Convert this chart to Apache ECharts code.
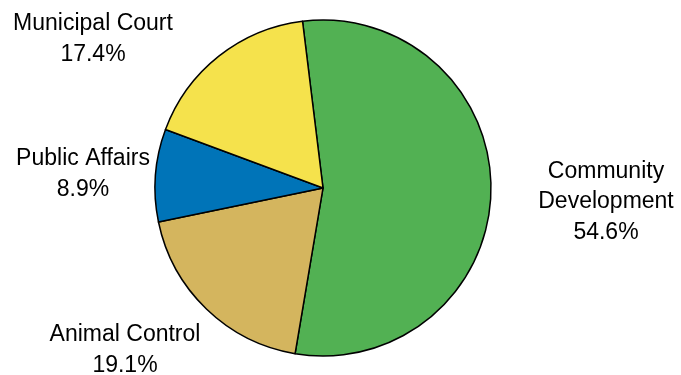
<!DOCTYPE html>
<html>
<head>
<meta charset="utf-8">
<style>
  html, body { margin: 0; padding: 0; background: #ffffff; }
  #chart { width: 681px; height: 375px; }
</style>
<script src="https://cdn.jsdelivr.net/npm/echarts@6/dist/echarts.min.js"></script>
</head>
<body>
<div id="chart"></div>
<script>
// Department shares of the budget (percent)
const categories = ['Community\nDevelopment', 'Animal Control', 'Public Affairs', 'Municipal Court'];
const shares = [54.6, 19.1, 8.9, 17.4];
const sliceColors = ['#52b153', '#d4b55e', '#0074b8', '#f5e24c'];

// Label block centres (px) for each department, in the same order
const labelCenters = [[606, 202], [125, 350], [83, 174], [93, 39]];

const chart = echarts.init(document.getElementById('chart'), null, { renderer: 'canvas' });

chart.setOption({
  animation: false,
  backgroundColor: '#ffffff',
  series: [{
    type: 'pie',
    center: [323, 188],
    radius: [0, 168],
    startAngle: 97,
    clockwise: true,
    avoidLabelOverlap: false,
    emphasis: { disabled: true },
    data: categories.map((name, i) => ({
      name: name,
      value: shares[i],
      itemStyle: { color: sliceColors[i] }
    })),
    itemStyle: { borderColor: '#000000', borderWidth: 1.5 },
    label: {
      show: true,
      position: 'outside',
      formatter: p => p.name + '\n' + p.value.toFixed(1) + '%',
      fontFamily: 'Liberation Sans, Arial, sans-serif',
      fontSize: 23,
      lineHeight: 30.5,
      color: '#000000',
      align: 'center'
    },
    labelLine: { show: false },
    labelLayout: params => ({
      x: labelCenters[params.dataIndex][0],
      y: labelCenters[params.dataIndex][1],
      align: 'center',
      verticalAlign: 'middle'
    })
  }]
});
</script>
</body>
</html>
